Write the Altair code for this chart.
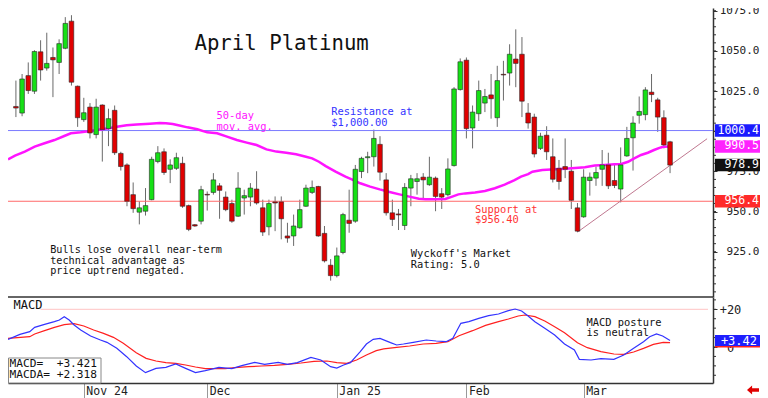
import altair as alt
import pandas as pd

# ---------------- data ----------------
opens = [1003.7, 1015.4, 1011.3, 1034.6, 1024.9, 1049.4, 1039.3, 1045.9, 1042.8, 1051.6,
         1068.5, 1028.0, 1007.2, 1015.0, 997.9, 1016.3, 1001.6, 1013.0, 986.2, 979.0,
         960.5, 949.6, 950.2, 957.4, 981.1, 987.2, 976.3, 976.9, 980.0, 953.7,
         941.8, 944.0, 960.7, 961.9, 966.0, 959.0, 955.0, 947.1, 958.4, 959.0,
         964.0, 952.3, 940.5, 956.0, 956.0, 934.8, 934.8, 939.9, 953.3, 961.9,
         965.6, 936.4, 916.6, 910.1, 924.5, 944.6, 944.0, 974.9, 983.5, 984.1,
         991.8, 969.7, 949.2, 948.5, 941.3, 964.6, 968.7, 971.4, 966.7, 970.8,
         961.1, 960.5, 978.6, 1025.9, 1044.2, 1002.0, 1010.9, 1017.5, 1022.6, 1008.4,
         1035.4, 1036.2, 1044.9, 1047.9, 1011.3, 1008.8, 989.3, 997.5, 984.1, 976.9,
         978.0, 975.1, 952.3, 946.7, 969.3, 970.8, 976.3, 979.0, 969.3, 964.0,
         984.6, 995.9, 1009.9, 1010.3, 1024.3, 1019.5, 1008.4, 993.4]
highs = [1020.2, 1031.5, 1035.6, 1042.8, 1050.4, 1056.6, 1061.3, 1052.1, 1057.2, 1071.0,
         1072.2, 1028.4, 1020.8, 1017.5, 1020.2, 1016.7, 1014.0, 1016.0, 987.2, 980.0,
         968.1, 956.4, 964.6, 984.1, 990.7, 989.3, 982.5, 986.6, 984.1, 954.3,
         942.2, 966.0, 962.5, 973.9, 967.7, 962.5, 957.4, 974.5, 963.6, 967.7,
         975.1, 957.4, 957.4, 959.4, 959.4, 943.0, 948.1, 957.4, 966.7, 969.3,
         966.0, 941.0, 920.4, 927.6, 949.2, 963.6, 979.0, 984.1, 987.2, 1001.0,
         996.9, 973.9, 957.4, 951.6, 967.7, 972.8, 973.9, 973.9, 984.1, 971.8,
         964.6, 983.1, 1027.4, 1045.3, 1045.9, 1016.0, 1031.5, 1026.3, 1035.6, 1040.7,
         1043.8, 1054.1, 1063.4, 1058.6, 1017.5, 1010.9, 999.0, 1003.1, 995.5, 982.1,
         995.5, 982.1, 955.3, 976.3, 974.3, 978.0, 988.3, 986.6, 980.0, 989.9,
         1002.7, 1009.3, 1021.6, 1027.4, 1035.6, 1020.8, 1013.0, 994.0]
lows = [1002.7, 1008.8, 1009.3, 1023.2, 1023.2, 1031.5, 1037.7, 1021.2, 1035.6, 1051.0,
        1028.4, 1002.7, 1005.8, 995.5, 995.5, 981.1, 990.7, 985.2, 975.5, 953.3,
        949.2, 942.0, 947.5, 957.0, 980.0, 972.8, 967.7, 975.9, 952.3, 937.8,
        940.5, 942.0, 950.6, 960.5, 945.5, 950.2, 943.0, 946.7, 948.1, 953.3,
        954.3, 934.8, 935.2, 937.8, 932.7, 930.6, 928.6, 939.3, 952.9, 960.9,
        934.3, 918.3, 907.0, 909.0, 923.4, 936.8, 943.0, 970.8, 973.9, 978.0,
        969.3, 947.5, 941.0, 938.5, 938.5, 953.3, 960.5, 957.4, 966.0, 950.2,
        951.6, 959.4, 978.0, 1025.3, 995.5, 989.3, 1006.4, 1011.9, 1007.8, 1002.7,
        1019.1, 1028.4, 1027.4, 1008.8, 1001.6, 983.7, 988.3, 982.1, 968.1, 963.6,
        970.8, 951.6, 937.2, 946.1, 959.9, 966.0, 966.0, 964.0, 964.6, 955.7,
        984.1, 975.5, 1004.7, 1006.8, 1018.1, 999.6, 989.3, 973.9]
closes = [1010.9, 1014.4, 1032.5, 1025.3, 1049.6, 1038.1, 1042.2, 1044.4, 1054.5, 1067.1,
          1030.5, 1008.4, 1011.5, 998.9, 1015.0, 1001.0, 1007.8, 986.6, 978.0, 956.4,
          951.8, 952.3, 953.7, 982.5, 986.6, 974.3, 979.0, 983.5, 953.3, 938.9,
          941.0, 963.6, 960.3, 969.7, 963.2, 951.2, 944.0, 964.6, 959.9, 964.6,
          955.3, 937.2, 955.0, 955.3, 945.5, 933.5, 941.0, 951.2, 964.6, 965.0,
          934.8, 919.3, 910.1, 922.4, 948.1, 942.6, 976.3, 983.1, 984.1, 995.5,
          974.5, 949.2, 945.1, 947.9, 965.0, 970.4, 970.4, 969.7, 971.4, 959.4,
          959.0, 976.5, 1026.3, 1043.2, 1001.6, 1011.9, 1025.3, 1021.6, 1020.2, 1031.5,
          1035.0, 1047.9, 1042.2, 1018.7, 1005.1, 985.8, 996.9, 987.2, 970.1, 968.7,
          976.3, 957.0, 937.8, 971.4, 971.4, 974.3, 979.0, 966.0, 966.2, 979.0,
          995.5, 1005.1, 1012.3, 1025.7, 1022.8, 1008.8, 991.4, 978.9]
session = list(range(1, len(opens) + 1))

ma_x = [0.25, 1.85, 3.44, 5.04, 6.64, 8.24, 9.83, 10.9, 12.5, 14.1, 15.7, 17.3, 18.35, 19.95,
        21.55, 23.7, 25.3, 26.3, 27.4, 28.5, 29.8, 31.4, 33.0, 34.6, 36.2, 37.8, 39.4, 41.0,
        42.6, 44.2, 45.8, 47.4, 49.0, 50.0, 51.1, 52.2, 53.8, 55.4, 56.7, 57.8, 59.4, 60.95,
        62.55, 64.15, 65.75, 67.3, 68.4, 70.0, 71.6, 72.7, 73.7, 74.8, 76.4, 78.0, 79.6, 81.2,
        82.8, 83.85, 85.0, 85.7, 87.3, 89.4, 91.0, 92.6, 94.2, 95.8, 97.4, 99.0, 100.1, 101.2,
        102.2, 103.3, 104.4, 105.4, 106.5, 107.0, 108.0]
ma_v = [982.5, 984.8, 987.3, 990.4, 992.5, 994.5, 997.0, 998.7, 999.3, 1000.1, 1001.1, 1002.0,
        1002.8, 1003.7, 1004.1, 1004.7, 1005.1, 1004.9, 1004.5, 1003.5, 1002.4, 1001.2, 999.3,
        998.7, 996.6, 994.5, 992.9, 991.4, 988.7, 987.3, 986.6, 985.6, 984.1, 983.1, 981.0,
        978.3, 974.8, 971.7, 969.6, 967.6, 965.5, 963.8, 962.2, 960.7, 959.3, 958.0, 957.6,
        957.6, 957.8, 959.3, 960.7, 961.3, 961.8, 962.8, 964.5, 966.7, 969.6, 971.7, 973.3,
        974.8, 975.9, 976.3, 976.7, 977.1, 977.5, 978.6, 979.0, 979.4, 979.6, 981.0, 983.1,
        985.2, 986.6, 988.3, 989.9, 990.4, 990.5]

macd_x = [0.25, 2.65, 4.24, 5.04, 6.64, 8.24, 9.04, 9.83, 10.63, 11.43, 12.5, 14.1, 15.7, 16.75,
          18.35, 19.95, 21.5, 23.0, 24.7, 26.3, 27.9, 29.5, 31.1, 32.7, 34.9, 37.0, 38.6, 40.7,
          42.3, 44.5, 46.0, 47.6, 49.8, 51.4, 53.0, 54.0, 55.1, 56.2, 57.8, 58.8, 59.9, 61.0,
          62.7, 63.7, 64.8, 66.4, 68.5, 70.1, 71.7, 72.8, 74.1, 75.4, 77.0, 78.6, 80.2, 81.8,
          82.9, 83.95, 85.0, 86.1, 87.7, 89.3, 90.9, 92.5, 93.3, 95.2, 96.8, 98.9, 100.5, 102.1,
          103.7, 104.7, 105.8, 106.8, 108.0]
macd_v = [4.07, 6.72, 8.13, 10.43, 12.03, 13.44, 14.32, 16.09, 14.32, 11.67, 9.02, 5.84, 3.71,
          2.48, -0.71, -5.13, -10.08, -13.62, -11.32, -10.79, -9.02, -11.32, -13.62, -12.56,
          -10.79, -11.50, -9.90, -8.13, -9.19, -8.13, -9.19, -8.31, -5.48, -6.90, -10.43, -11.14,
          -9.55, -8.31, -2.48, 1.59, 4.07, 4.60, 2.30, 1.06, 1.59, 2.48, 3.71, 3.18, 2.83, 4.60,
          12.56, 13.44, 15.21, 16.62, 17.51, 19.27, 20.16, 19.10, 16.45, 13.44, 9.90, 6.37, 1.59,
          -1.59, -6.54, -6.90, -6.19, -6.54, -4.24, -0.71, 2.83, 5.48, 6.90, 5.84, 3.42]
sig_x = [0.25, 4.24, 5.04, 6.64, 8.24, 9.83, 11.43, 13.0, 14.6, 16.2, 17.8, 19.4, 21.5, 23.1,
         24.7, 26.3, 27.9, 29.5, 31.1, 32.7, 35.9, 37.5, 39.7, 41.8, 43.9, 46.0, 48.2, 50.3,
         52.4, 54.0, 55.6, 57.2, 58.8, 60.4, 61.6, 63.7, 65.8, 68.0, 70.1, 72.0, 73.8, 76.0,
         78.1, 80.2, 81.8, 83.4, 84.5, 86.1, 87.7, 89.3, 90.9, 93.0, 94.6, 96.8, 98.9, 100.5,
         102.1, 103.7, 105.3, 106.9, 108.0]
sig_v = [4.60, 5.48, 6.90, 8.66, 10.43, 11.85, 12.38, 11.14, 9.02, 7.25, 5.13, 1.95, -3.01,
         -6.01, -7.43, -8.31, -8.66, -9.55, -10.61, -11.50, -11.50, -10.96, -10.43, -10.08,
         -9.72, -9.19, -8.49, -7.60, -7.43, -8.31, -8.66, -6.90, -4.24, -1.95, -1.0, -0.18,
         0.53, 1.59, 1.95, 2.83, 6.01, 8.66, 11.50, 13.44, 14.85, 16.45, 16.98, 16.09, 13.79,
         10.79, 7.60, 2.30, -0.35, -2.48, -3.71, -3.89, -2.65, -0.71, 1.42, 2.48, 2.32]

trend_x = [93, 114]
trend_v = [937.2, 995.3]

tick_pos = [13, 33, 54, 75, 94]
tick_labels = ["Nov 24", "Dec", "Jan 25", "Feb", "Mar"]
price_ticks = [925, 950, 975, 1000, 1025, 1050, 1075]
minor_ticks = list(range(900, 1080, 5))
macd_ticks = [0, 20]
macd_minor = list(range(-15, 30, 5))

resistance = 1000.4
support = 956.4
last_close = 978.9
ma_last = 990.5
macd_last = 3.421
macda_last = 2.318

# ---------------- layout / style ----------------
FONT = "DejaVu Sans Mono"
W, H1, H2 = 705, 289, 86          # plot width, price-panel height, MACD-panel height
H = H1 + H2
RZ, BZ = 47, 15                   # room for the right labels and the date labels
X_DOMAIN = [1.527, 114.15]
P_DOMAIN = [896.81, 1076.68]
M_DOMAIN = [-19.10, 26.53]
GREEN, RED = "#16e016", "#e00000"
MAGENTA = "#ff14ff"

xs = alt.Scale(domain=X_DOMAIN, nice=False, zero=False, clamp=True)
ps = alt.Scale(domain=P_DOMAIN, range=[H1, 0], nice=False, zero=False)
ms = alt.Scale(domain=M_DOMAIN, range=[H, H1], nice=False, zero=False)

label_expr = " : ".join(f"datum.value == {p} ? '{l}'" for p, l in zip(tick_pos, tick_labels)) + " : ''"
AX_X = alt.Axis(values=tick_pos, labelExpr=label_expr, tickSize=BZ, tickColor="#999",
                labelAlign="left", labelOffset=2, labelBaseline="alphabetic", labelPadding=-4,
                labelFont=FONT, labelFontSize=11.5, labelColor="#222", domainColor="#333",
                domainWidth=1.5, grid=False, title=None, labelFlush=False, labelOverlap=False)
AX_P = alt.Axis(orient="right", values=price_ticks, format=".1f", title=None, grid=False,
                tickSize=4, tickColor="#333", labelPadding=RZ - 5, labelAlign="right",
                labelFont=FONT, labelFontSize=11, labelColor="#222", domainColor="#333",
                domainWidth=1.5, labelFlush=False, labelOverlap=False)
AX_M = alt.Axis(orient="right", values=macd_ticks,
                labelExpr="datum.value > 0 ? '+' + datum.value : '' + datum.value",
                tickSize=4, tickColor="#333", labelPadding=13, labelAlign="center",
                labelFont=FONT, labelFontSize=12, labelColor="#222", domainColor="#333",
                domainWidth=1.5, grid=False, title=None, labelFlush=False, labelOverlap=False)


def X(f):
    return alt.X(f, type="quantitative", scale=xs, axis=AX_X)


def YP(f, axis=None):
    return alt.Y(f, type="quantitative", scale=ps, axis=axis)


def YM(f, axis=None):
    return alt.Y(f, type="quantitative", scale=ms, axis=axis)


candles = pd.DataFrame({"i": session, "open": opens, "high": highs, "low": lows, "close": closes})
candles["dir"] = ["up" if c >= o else "down" for o, c in zip(opens, closes)]
in_view = f"datum.i >= {X_DOMAIN[0]}"

# price panel
hlines = alt.Chart(pd.DataFrame({"v": [support, resistance], "c": ["#ff6a6a", "#7a7aff"]})).mark_rule(
    strokeWidth=1).encode(y=YP("v"), color=alt.Color("c:N", scale=None))
separator = alt.Chart(pd.DataFrame({"v": [P_DOMAIN[0]]})).mark_rule(
    color="#333", strokeWidth=1.5).encode(y=YP("v"))

ma_line = alt.Chart(pd.DataFrame({"i": ma_x, "v": ma_v})).mark_line(
    color=MAGENTA, strokeWidth=2.5).encode(x=X("i"), y=YP("v"))
trend = alt.Chart(pd.DataFrame({"i": trend_x, "v": trend_v})).mark_line(
    color="#c07890", strokeWidth=1).encode(x=X("i"), y=YP("v"))

wicks = alt.Chart(candles).transform_filter(in_view).mark_rule(color="#6a6a6a", strokeWidth=1).encode(
    x=X("i"), y=YP("low", AX_P), y2="high:Q")
bodies = alt.Chart(candles).transform_filter(in_view).mark_bar(
    size=4.6, stroke="#262626", strokeWidth=0.6).encode(
    x=X("i"), y=YP("open"), y2="close:Q",
    color=alt.Color("dir:N", scale=alt.Scale(domain=["up", "down"], range=[GREEN, RED]), legend=None),
)
minor = alt.Chart(pd.DataFrame({"v": minor_ticks})).mark_rule(color="#333", strokeWidth=1).encode(
    y=YP("v"), x=alt.value(W), x2=alt.value(W + 3))
mminor = alt.Chart(pd.DataFrame({"v": macd_minor})).mark_rule(color="#333", strokeWidth=1).encode(
    y=YM("v"), x=alt.value(W), x2=alt.value(W + 3))


def note(i, y, txt, color, size, yfun, align="left", lh=11):
    return alt.Chart(pd.DataFrame({"i": [i], "v": [y], "t": [txt]})).mark_text(
        align=align, baseline="alphabetic", font=FONT, fontSize=size, color=color,
        lineBreak="\n", lineHeight=lh).encode(x=X("i"), y=yfun("v"), text="t:N")


notes = [
    note(45.06, 1050.5, "April Platinum", "#111", 20.7, YP, align="center"),
    note(34.5, 1007.5, "50-day\nmov. avg.", MAGENTA, 10.4, YP, lh=11),
    note(53.1, 1010.0, "Resistance at\n$1,000.00", "#3333ff", 10.4, YP, lh=10.5),
    note(76.4, 949.3, "Support at\n$956.40", "#ff3333", 10.4, YP, lh=10.5),
    note(7.55, 924.0, "Bulls lose overall near-term\ntechnical advantage as\nprice uptrend negated.",
         "#111", 10.2, YP, lh=10.4),
    note(66.0, 921.4, "Wyckoff's Market\nRating: 5.0", "#111", 10.4, YP, lh=10.5),
    note(1.62, 20.0, "MACD", "#111", 12, YM),
    note(94.45, 11.25, "MACD posture\nis neutral", "#111", 10.4, YM, lh=10.5),
]

boxes = pd.DataFrame({
    "v": [resistance, ma_last, last_close, support],
    "c": ["#1a1aff", "#ff22ff", "#111111", "#ff2a2a"],
    "t": [f"{resistance:.1f}", f"{ma_last:.1f}", f"{last_close:.1f}", f"{support:.1f}"],
})
box_rect = alt.Chart(boxes).transform_calculate(lo="datum.v - 3.9", hi="datum.v + 3.9").mark_rect().encode(
    x=alt.value(W + 2), x2=alt.value(W + RZ), y=YP("lo"), y2="hi:Q", color=alt.Color("c:N", scale=None))
box_text = alt.Chart(boxes).mark_text(align="right", baseline="middle", font=FONT, fontSize=11.5,
                                      color="white").encode(x=alt.value(W + RZ - 1), y=YP("v"), text="t:N")

# MACD panel
pink = alt.Chart(pd.DataFrame({"i": [6.0], "i2": [X_DOMAIN[1]], "v": [20]})).mark_rule(
    color="#ffc4c4", strokeWidth=1).encode(x=X("i"), x2="i2:Q", y=YM("v"))
macd_line = alt.Chart(pd.DataFrame({"i": macd_x, "v": macd_v})).mark_line(
    color="#3333ff", strokeWidth=1.2).encode(x=X("i"), y=YM("v", AX_M))
sig_line = alt.Chart(pd.DataFrame({"i": sig_x, "v": sig_v})).mark_line(
    color="#ff2020", strokeWidth=1.2).encode(x=X("i"), y=YM("v"))

info_rect = alt.Chart(pd.DataFrame({"a": [0]})).mark_rect(fill="white", stroke="#888", strokeWidth=1).encode(
    x=alt.value(0.5), x2=alt.value(93), y=alt.value(H1 + 61), y2=alt.value(H))
info_text = alt.Chart(pd.DataFrame({"t": [f"MACD=\u00a0\u00a0{macd_last:+.3f}\nMACDA=\u00a0{macda_last:+.3f}"]})).mark_text(
    align="left", baseline="alphabetic", font=FONT, fontSize=11.2, color="#111", lineBreak="\n",
    lineHeight=11).encode(x=alt.value(1.5), y=alt.value(H1 + 70), text="t:N")

mboxes = pd.DataFrame({"v": [macda_last, macd_last], "h": [2.6, 2.9], "c": ["#ff2020", "#1e1eff"],
                       "t": ["", f"{macd_last:+.2f}"]})
mbox_rect = alt.Chart(mboxes).transform_calculate(lo="datum.v - datum.h", hi="datum.v + datum.h").mark_rect().encode(
    x=alt.value(W + 2), x2=alt.value(W + RZ), y=YM("lo"), y2="hi:Q", color=alt.Color("c:N", scale=None))
mbox_text = alt.Chart(mboxes).mark_text(align="right", baseline="middle", font=FONT, fontSize=12,
                                        color="white").encode(x=alt.value(W + RZ - 3), y=YM("v"), text="t:N")

ARROW = "M -1 0 L -0.15 -0.75 L -0.15 -0.3 L 1 -0.3 L 1 0.3 L -0.15 0.3 L -0.15 0.75 Z"
arrow = alt.Chart(pd.DataFrame({"a": [0]})).mark_point(shape=ARROW, size=144, filled=True,
                                                       color="#e00000", opacity=1).encode(
    x=alt.value(W + RZ - 7), y=alt.value(H + 7))

chart = alt.layer(
    wicks, hlines, ma_line, trend, bodies, separator, minor, mminor, pink, sig_line, macd_line,
    info_rect, info_text, *notes, box_rect, box_text, mbox_rect, mbox_text, arrow,
).resolve_scale(y="independent").properties(
    width=W, height=H,
    autosize=alt.AutoSizeParams(type="none"),
    padding={"left": 0, "top": 0, "right": RZ, "bottom": BZ},
    background="white",
).configure_view(stroke=None)

chart.save("out.html", embed_options={"renderer": "svg", "actions": False})
